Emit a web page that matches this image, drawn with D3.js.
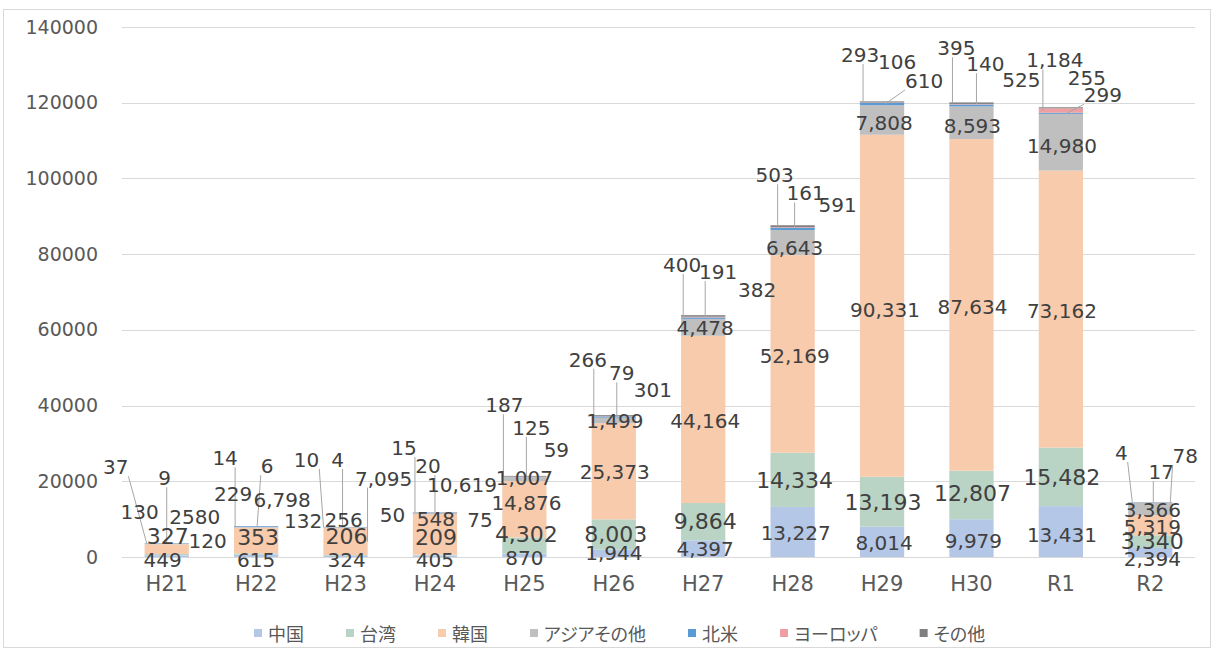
<!DOCTYPE html>
<html>
<head>
<meta charset="utf-8">
<script src="https://cdn.jsdelivr.net/npm/d3@7"></script>
<style>
  body { margin: 0; background: #fff; }
  svg { display: block; }
  text { font-family: "DejaVu Sans", Verdana, sans-serif; }
  .legend text { font-family: "Noto Sans CJK JP", sans-serif; font-feature-settings: "palt"; }
</style>
</head>
<body>
<svg id="chart" width="1215" height="650"></svg>
<script>
// Visitors by region, fiscal years H21 – R2
const categories = ["H21", "H22", "H23", "H24", "H25", "H26", "H27", "H28", "H29", "H30", "R1", "R2"];
const seriesNames = ["中国", "台湾", "韓国", "アジアその他", "北米", "ヨーロッパ", "その他"];

const china        = [449, 615, 324, 405, 870, 1944, 4397, 13227, 8014, 9979, 13431, 2394];
const taiwan       = [327, 353, 206, 209, 4302, 8003, 9864, 14334, 13193, 12807, 15482, 3340];
const korea        = [2580, 6798, 7095, 10619, 14876, 25373, 44164, 52169, 90331, 87634, 73162, 5319];
const otherAsia    = [120, 132, 256, 548, 1007, 1499, 4478, 6643, 7808, 8593, 14980, 3366];
const northAmerica = [130, 229, 50, 75, 59, 301, 382, 591, 610, 525, 299, 78];
const europe       = [37, 14, 10, 20, 125, 79, 191, 161, 106, 140, 1184, 17];
const others       = [9, 6, 4, 15, 187, 266, 400, 503, 293, 395, 255, 4];

const yTicks = [0, 20000, 40000, 60000, 80000, 100000, 120000, 140000];

const seriesValues = [china, taiwan, korea, otherAsia, northAmerica, europe, others];
const colors = ["#b4c7e7", "#b9d4c5", "#f8cbad", "#bfbfbf", "#5b9bd5", "#ee9fa3", "#7f7f7f"];

// Data-label displacement from the segment centre [dx, dy] (px), per category / series
const labelShift = {
  H21: [[-4, 4], [1, -18], [28, -32], [41, -3], [-27, -32], [-51, -76], [-2, -65]],
  H22: [[0, 4], [2, -17], [26, -40], [47, -6], [-23, -33], [-31, -68], [11, -60]],
  H23: [[1, 4], [1, -19], [38, -63], [-2, -8], [47, -12], [-39, -67], [-8, -67]],
  H24: [[0, 4], [1, -18], [27, -50], [1, 6], [45, 8], [-7, -46], [-31, -64]],
  H25: [[0, 3], [2, -11], [2, -6], [0, -1], [32, -27], [7, -49], [-20, -71]],
  H26: [[0, 0], [2, 0], [1, 1], [1, 1], [39, -27], [8, -43], [-26, -56]],
  H27: [[2, 0], [2, 0], [2, 2], [2, 1], [54, -28], [15, -45], [-21, -51]],
  H28: [[3, 1], [2, 1], [2, 2], [2, 5], [45, -24], [13, -34], [-18, -51]],
  H29: [[2, 1], [1, 1], [3, 4], [2, 3], [42, -23], [15, -41], [-22, -47]],
  H30: [[2, 3], [1, -1], [1, 2], [1, 3], [50, -25], [14, -40], [-15, -55]],
  R1:  [[1, 3], [1, 1], [1, 2], [1, 4], [42, -18], [-6, -50], [26, -30]],
  R2:  [[2, 7], [2, 0], [2, 2], [2, 1], [35, -46], [11, -30], [-29, -49]]
};
// Leader lines: series index -> horizontal end offset from the bar centre
const leaders = {
  H21: {5: -20, 6: 0}, H22: {5: -21, 6: 1}, H23: {5: -22, 6: -3, 2: 22},
  H24: {6: -20, 5: 0}, H25: {6: -21, 5: 2}, H26: {6: -20, 5: 3},
  H27: {6: -20, 5: 2}, H28: {6: -15, 5: 2}, H29: {6: -19, 4: 3},
  H30: {6: -19, 5: 5}, R1: {5: -18, 4: 6}, R2: {6: -18, 5: 3, 4: 20}
};

const svg = d3.select("#chart");
const W = 1215, H = 650;
const plot = {left: 122, right: 1195, top: 27, bottom: 557};

// outer frame
svg.append("rect").attr("x", 3.5).attr("y", 9.5).attr("width", W - 8).attr("height", H - 12)
  .attr("fill", "#fff").attr("stroke", "#d9d9d9");

const x = d3.scaleBand().domain(categories).range([plot.left, plot.right]).paddingInner(0.505).paddingOuter(0.2525);
const y = d3.scaleLinear().domain([0, 140000]).range([plot.bottom, plot.top]);

// gridlines
svg.append("g").selectAll("line").data(yTicks).join("line")
  .attr("x1", plot.left).attr("x2", plot.right)
  .attr("y1", d => Math.round(y(d)) + 0.5).attr("y2", d => Math.round(y(d)) + 0.5)
  .attr("stroke", "#d9d9d9").attr("stroke-width", 1);

// y axis labels
const yAxis = svg.append("g").attr("transform", `translate(${plot.left - 24},0)`)
  .call(d3.axisLeft(y).tickValues(yTicks).tickFormat(d3.format("d")).tickSize(0).tickPadding(0));
yAxis.select(".domain").remove();
yAxis.selectAll("text").attr("font-size", 19).attr("fill", "#595959")
  .attr("font-family", "DejaVu Sans, sans-serif");

// x axis labels
const xAxis = svg.append("g").attr("transform", `translate(0,${plot.bottom + 19})`)
  .call(d3.axisBottom(x).tickSize(0).tickPadding(0));
xAxis.select(".domain").remove();
xAxis.selectAll("text").attr("font-size", 21).attr("fill", "#595959")
  .attr("font-family", "DejaVu Sans, sans-serif").attr("dy", "0.71em");

// stacked data
const table = categories.map((c, i) => {
  const row = {category: c};
  seriesNames.forEach((s, k) => row[s] = seriesValues[k][i]);
  return row;
});
const stacked = d3.stack().keys(seriesNames)(table);

const bars = svg.append("g");
stacked.forEach((layer, k) => {
  bars.append("g").attr("fill", colors[k]).selectAll("rect").data(layer).join("rect")
    .attr("x", d => x(d.data.category))
    .attr("width", x.bandwidth())
    .attr("y", d => y(d[1]))
    .attr("height", d => Math.max(0, y(d[0]) - y(d[1])));
});

// data labels and leader lines
const fmt = d3.format(",");
const labelLayer = svg.append("g");
const leaderLayer = svg.insert("g", () => labelLayer.node());
stacked.forEach((layer, k) => {
  layer.forEach(d => {
    const c = d.data.category;
    const cx = x(c) + x.bandwidth() / 2;
    const cy = (y(d[0]) + y(d[1])) / 2;
    const [dx, dy] = labelShift[c][k];
    const lx = cx + dx, ly = cy + dy;
    const value = d[1] - d[0];
    const t = labelLayer.append("text")
      .attr("x", lx).attr("y", ly)
      .attr("text-anchor", "middle").attr("dominant-baseline", "central")
      .attr("font-size", k === 1 ? 22 : 20)
      .attr("fill", "#404040")
      .text(value >= 1000 && c !== "H21" ? fmt(value) : String(value));
    const lead = leaders[c] && leaders[c][k];
    if (lead !== undefined) {
      const w = t.node().getComputedTextLength();
      const ex = cx + lead, ey = cy;
      const sx = Math.max(lx - w / 2, Math.min(lx + w / 2, ex));
      leaderLayer.append("line")
        .attr("x1", sx).attr("y1", ly + 9)
        .attr("x2", ex).attr("y2", ey)
        .attr("stroke", "#a6a6a6").attr("stroke-width", 1);
    }
  });
});

// legend
const legend = svg.append("g").attr("class", "legend").attr("transform", "translate(254,633)");
let lxPos = 0;
seriesNames.forEach((s, k) => {
  const g = legend.append("g").attr("transform", `translate(${lxPos},0)`);
  g.append("rect").attr("x", 0).attr("y", -4).attr("width", 8).attr("height", 8).attr("fill", colors[k]);
  const t = g.append("text").attr("x", 14).attr("y", 0).attr("dominant-baseline", "central")
    .attr("font-size", 18).attr("fill", "#595959").text(s);
  lxPos += 14 + t.node().getComputedTextLength() + 42;
});
</script>
</body>
</html>
